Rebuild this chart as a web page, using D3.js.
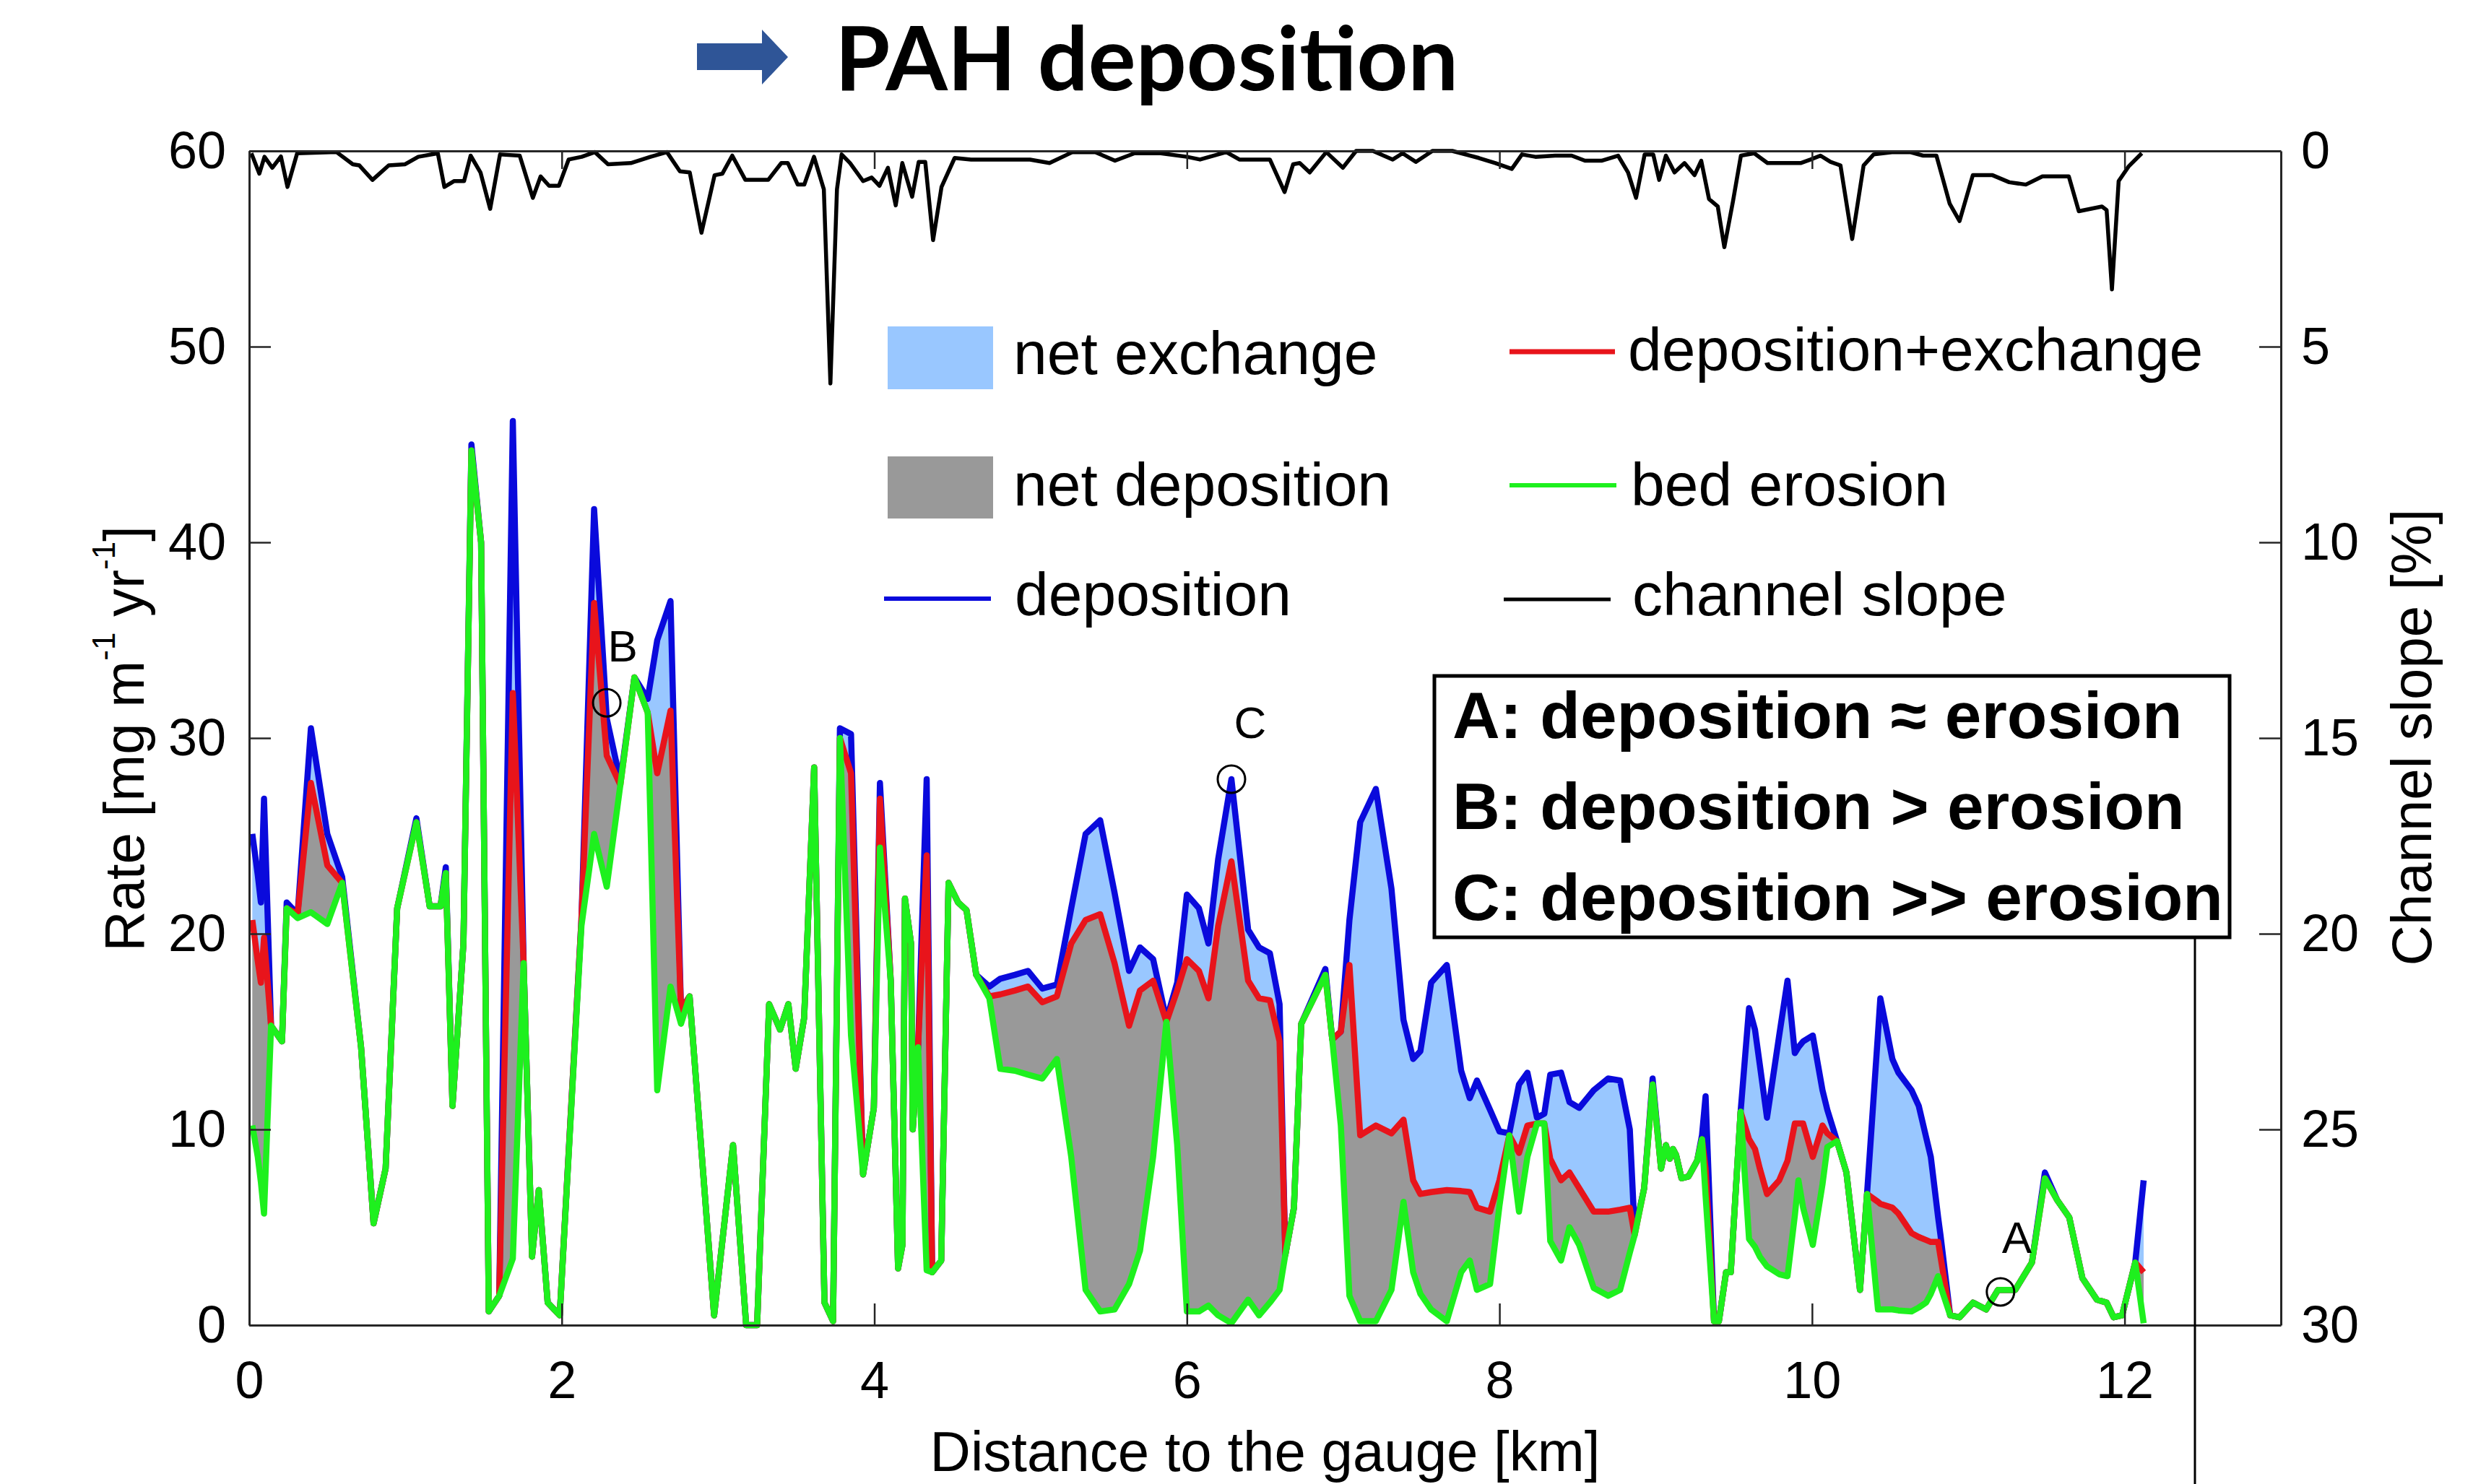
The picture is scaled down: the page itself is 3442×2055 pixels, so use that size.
<!DOCTYPE html>
<html><head><meta charset="utf-8">
<script src="https://cdn.jsdelivr.net/npm/d3@7"></script>
<style>body{margin:0;background:#fff}</style>
</head><body>
<svg id="chart" width="3442" height="2055"></svg>
<script>
// ---------------- data ----------------
const distanceKm = [0.02,0.055,0.075,0.095,0.14,0.21,0.24,0.31,0.395,0.50,0.595,0.716,0.796,0.873,0.947,1.07,1.155,1.224,1.258,1.301,1.371,1.422,1.484,1.533,1.60,1.687,1.756,1.81,1.853,1.91,1.987,2.126,2.207,2.288,2.375,2.465,2.55,2.611,2.696,2.763,2.818,2.975,3.096,3.18,3.25,3.327,3.397,3.45,3.497,3.551,3.615,3.681,3.736,3.78,3.851,3.928,3.997,4.036,4.105,4.152,4.18,4.196,4.235,4.246,4.28,4.335,4.37,4.428,4.475,4.536,4.59,4.652,4.736,4.806,4.90,4.983,5.075,5.168,5.26,5.352,5.445,5.537,5.63,5.70,5.784,5.869,5.938,6.0,6.077,6.138,6.2,6.285,6.392,6.462,6.531,6.593,6.63,6.685,6.732,6.886,6.93,6.985,7.04,7.109,7.209,7.309,7.386,7.448,7.494,7.563,7.663,7.755,7.81,7.856,7.94,8.0,8.063,8.125,8.179,8.24,8.287,8.325,8.394,8.448,8.51,8.603,8.695,8.772,8.834,8.865,8.926,8.98,9.034,9.065,9.09,9.11,9.13,9.165,9.21,9.265,9.296,9.319,9.373,9.404,9.45,9.48,9.543,9.597,9.635,9.666,9.712,9.79,9.843,9.89,9.913,9.943,10.005,10.067,10.098,10.16,10.22,10.307,10.352,10.422,10.437,10.514,10.553,10.637,10.683,10.73,10.76,10.807,10.822,10.884,10.944,11.03,11.114,11.19,11.3,11.407,11.49,11.568,11.646,11.73,11.823,11.885,11.93,11.984,12.068,12.122];
const bedErosion = [10.2,8.6,7.3,5.7,15.3,14.5,21.3,20.8,21.1,20.5,22.6,14.2,5.2,8.0,21.3,25.7,21.4,21.4,23.1,11.2,19.5,44.7,40.0,0.7,1.5,3.4,18.5,3.5,6.9,1.15,0.5,20.4,25.1,22.4,27.6,33.1,31.3,12.0,17.3,15.4,16.8,0.5,9.2,0.0,0.0,16.4,15.1,16.4,13.1,15.7,28.5,1.15,0.2,30.0,14.8,7.7,11.1,24.4,17.6,2.9,4.1,21.8,19.5,10.0,14.2,2.8,2.7,3.3,22.6,21.6,21.2,17.9,16.7,13.1,13.0,12.8,12.6,13.6,8.6,1.8,0.7,0.8,2.1,3.8,8.6,15.5,9.2,0.7,0.7,1.0,0.5,0.1,1.3,0.5,1.15,1.8,3.6,6.0,15.4,17.9,14.6,10.2,1.5,0.2,0.2,1.8,6.3,2.7,1.6,0.8,0.2,2.7,3.3,1.8,2.1,6.1,9.7,5.8,8.6,10.3,10.3,4.3,3.3,5.0,4.1,1.9,1.5,1.8,3.7,4.6,7.0,12.3,8.0,9.2,8.5,9.0,8.7,7.5,7.6,8.4,9.5,6.6,0.2,0.2,2.7,2.7,10.9,4.4,4.0,3.5,3.0,2.6,2.5,5.6,7.4,6.0,4.1,7.2,9.1,9.4,7.8,1.8,6.7,0.8,0.8,0.8,0.75,0.7,0.9,1.15,1.6,2.5,2.0,0.5,0.4,1.15,0.8,1.8,1.8,3.2,7.5,6.4,5.5,2.4,1.3,1.15,0.4,0.5,3.2,0.1];
const depositionExchange = [20.7,18.6,17.5,19.8,15.3,14.5,21.3,21.0,27.7,23.5,22.6,14.2,5.2,8.0,21.3,25.7,21.4,21.4,23.1,11.2,19.5,44.7,40.0,0.7,1.5,32.3,18.5,3.5,6.9,1.15,0.5,20.7,36.9,29.1,27.6,33.1,31.3,28.2,31.4,16.1,16.8,0.5,9.2,0.0,0.0,16.4,15.1,16.4,13.1,15.7,28.5,1.15,0.2,30.0,28.2,7.7,11.1,26.9,17.6,2.9,4.1,21.8,19.5,10.0,14.2,24.0,2.7,3.3,22.6,21.6,21.2,17.9,16.8,16.9,17.1,17.3,16.5,16.8,19.5,20.7,21.0,18.5,15.3,17.1,17.6,15.5,17.1,18.7,18.1,16.7,20.4,23.7,17.6,16.7,16.6,14.5,3.6,6.0,15.4,17.9,14.6,15.0,18.4,9.7,10.2,9.8,10.5,7.4,6.7,6.8,6.9,6.85,6.8,6.0,5.8,7.4,9.7,8.8,10.2,10.3,10.3,8.5,7.4,7.8,7.0,5.8,5.8,5.9,6.0,4.6,7.0,12.3,8.0,9.2,8.5,9.0,8.7,7.5,7.6,8.4,9.5,8.0,0.2,0.2,2.7,2.7,10.9,9.5,9.0,8.0,6.7,7.4,8.4,10.3,10.3,10.3,8.6,10.2,9.8,9.4,7.8,1.8,6.7,6.3,6.2,6.0,5.7,4.7,4.5,4.35,4.25,4.25,3.5,0.5,0.4,1.15,0.8,1.8,1.8,3.2,7.5,6.4,5.5,2.4,1.3,1.15,0.4,0.5,3.2,2.7];
const deposition = [25.1,23.0,21.6,26.9,15.3,14.5,21.6,21.0,30.5,25.1,22.9,14.2,5.2,8.0,21.3,25.9,21.4,21.4,23.4,11.2,19.5,45.0,40.0,0.7,1.5,46.2,18.5,3.5,6.9,1.15,0.5,20.7,41.7,31.0,27.8,33.1,32.0,35.0,37.0,16.1,16.8,0.5,9.2,0.0,0.0,16.4,15.1,16.4,13.1,15.7,28.5,1.15,0.2,30.5,30.2,7.7,11.1,27.7,17.6,2.9,4.1,21.8,19.5,10.0,14.2,27.9,2.7,3.3,22.6,21.6,21.2,17.9,17.3,17.7,17.9,18.1,17.2,17.4,21.3,25.1,25.8,22.1,18.1,19.3,18.7,15.6,17.5,22.0,21.3,19.5,23.8,27.9,20.2,19.3,19.0,16.4,3.6,6.0,15.4,18.2,14.6,15.0,20.7,25.7,27.4,22.3,15.6,13.6,14.0,17.5,18.4,13.0,11.6,12.5,11.0,9.9,9.8,12.3,12.9,10.6,10.8,12.8,12.9,11.4,11.1,12.0,12.6,12.5,10.0,4.8,7.0,12.6,8.0,9.2,8.5,9.0,8.7,7.5,7.6,8.4,9.7,11.7,0.2,0.2,2.7,2.7,10.9,16.2,15.1,13.3,10.6,14.8,17.6,13.9,14.2,14.5,14.8,12.0,11.0,9.4,7.8,1.8,6.7,14.9,16.7,13.6,12.9,12.0,11.2,9.6,8.6,5.5,4.6,0.5,0.4,1.15,0.8,1.8,1.8,3.2,7.8,6.4,5.5,2.4,1.3,1.15,0.4,0.5,3.2,7.4];

const slopeKm = [0.014,0.065,0.098,0.148,0.203,0.245,0.307,0.559,0.663,0.705,0.789,0.893,0.998,1.082,1.207,1.249,1.312,1.375,1.417,1.48,1.542,1.605,1.731,1.815,1.865,1.919,1.982,2.044,2.128,2.212,2.296,2.442,2.568,2.673,2.756,2.819,2.894,2.978,3.028,3.091,3.175,3.321,3.405,3.447,3.51,3.552,3.614,3.677,3.719,3.761,3.791,3.845,3.928,3.983,4.033,4.087,4.137,4.179,4.242,4.284,4.326,4.376,4.43,4.514,4.619,4.996,5.121,5.268,5.414,5.54,5.665,5.833,6.0,6.084,6.252,6.336,6.446,6.531,6.625,6.68,6.722,6.786,6.892,6.998,7.083,7.19,7.317,7.38,7.465,7.571,7.698,7.868,7.974,8.079,8.144,8.23,8.356,8.462,8.547,8.653,8.759,8.823,8.874,8.929,8.984,9.022,9.065,9.12,9.184,9.248,9.291,9.341,9.397,9.439,9.494,9.545,9.63,9.715,9.927,9.991,10.054,10.118,10.182,10.257,10.33,10.394,10.521,10.627,10.711,10.796,10.881,10.944,11.029,11.155,11.262,11.368,11.474,11.643,11.707,11.855,11.885,11.919,11.962,12.025,12.11];
const channelSlope = [0.06,0.58,0.15,0.43,0.14,0.92,0.06,0.03,0.34,0.37,0.74,0.37,0.34,0.15,0.06,0.92,0.77,0.77,0.12,0.55,1.48,0.09,0.12,1.2,0.65,0.89,0.89,0.22,0.15,0.03,0.34,0.31,0.15,0.03,0.52,0.55,2.09,0.62,0.58,0.12,0.74,0.74,0.31,0.31,0.86,0.86,0.15,0.98,5.94,0.98,0.09,0.31,0.77,0.68,0.89,0.43,1.39,0.31,1.17,0.28,0.28,2.28,0.92,0.18,0.22,0.22,0.31,0.03,0.03,0.25,0.06,0.06,0.15,0.22,0.03,0.22,0.22,0.22,1.05,0.34,0.31,0.55,0.03,0.43,0,0,0.22,0.06,0.28,0,0,0.18,0.31,0.46,0.09,0.15,0.12,0.12,0.25,0.25,0.12,0.55,1.2,0.09,0.09,0.74,0.12,0.55,0.31,0.62,0.25,1.23,1.42,2.46,1.29,0.12,0.06,0.31,0.31,0.22,0.12,0.28,0.37,2.25,0.37,0.09,0.03,0.03,0.12,0.12,1.35,1.79,0.62,0.62,0.8,0.86,0.65,0.65,1.54,1.42,1.51,3.54,0.77,0.4,0.06];

const rateTicks = [0,10,20,30,40,50,60];
const slopeTicks = [0,5,10,15,20,25,30];
const distanceTicks = [0,2,4,6,8,10,12];

const markLabels = ["A","B","C"];
const markKm = [11.206,2.288,6.285];
const markRate = [1.7,31.8,27.9];
const markLabelKm = [11.31,2.39,6.405];
const markLabelRate = [3.7,33.9,30.0];

const boxLines = ["A: deposition \u2248 erosion","B: deposition > erosion","C: deposition >> erosion"];
const titleText = "PAH deposition";

// ---------------- drawing ----------------
const svg = d3.select("#chart");
const FONT = "'Liberation Sans', Arial, sans-serif";
const M = {left:345, right:3158, top:209, bottom:1835};
const C = {blue:"#0a0adc", red:"#e8141b", green:"#1ef01e", fillEx:"#99c7ff", fillDep:"#999999", axis:"#262626"};

const x = d3.scaleLinear().domain([0,13]).range([M.left, M.right]);
const yL = d3.scaleLinear().domain([0,60]).range([M.bottom, M.top]);
const yR = d3.scaleLinear().domain([0,30]).range([M.top, M.bottom]);

svg.append("rect").attr("width",3442).attr("height",2055).attr("fill","#fff");

// title
svg.append("polygon")
  .attr("points","965,60 1055,60 1055,41 1091,79 1055,117 1055,97 965,97")
  .attr("fill","#2f5597");
svg.append("text").attr("x",1156).attr("y",125)
  .attr("font-family","Lato, 'Open Sans', sans-serif").attr("font-weight",700)
  .attr("font-size",123).attr("textLength",863).attr("lengthAdjust","spacingAndGlyphs")
  .text(titleText);

const rows = distanceKm.map((d,i)=>({km:d, g:bedErosion[i], r:depositionExchange[i], b:deposition[i]}));

const plot = svg.append("g");
plot.append("path").datum(rows).attr("fill",C.fillEx)
  .attr("d", d3.area().x(d=>x(d.km)).y0(d=>yL(d.r)).y1(d=>yL(d.b)));
plot.append("path").datum(rows).attr("fill",C.fillDep)
  .attr("d", d3.area().x(d=>x(d.km)).y0(d=>yL(d.g)).y1(d=>yL(d.r)));

const lineOf = key => d3.line().x(d=>x(d.km)).y(d=>yL(d[key]));
[["b",C.blue],["r",C.red],["g",C.green]].forEach(([k,col])=>{
  plot.append("path").datum(rows).attr("fill","none").attr("stroke",col)
    .attr("stroke-width",8.5).attr("stroke-linejoin","round").attr("d",lineOf(k));
});

// channel slope
const slopeRows = slopeKm.map((d,i)=>({km:d, s:channelSlope[i]}));
plot.append("path").datum(slopeRows).attr("fill","none").attr("stroke","#000")
  .attr("stroke-width",5.5).attr("stroke-linejoin","round")
  .attr("d", d3.line().x(d=>x(d.km)).y(d=>yR(d.s)));

// annotation markers
markLabels.forEach((lab,i)=>{
  plot.append("circle").attr("cx",x(markKm[i])).attr("cy",yL(markRate[i])).attr("r",19)
    .attr("fill","none").attr("stroke","#000").attr("stroke-width",3);
  plot.append("text").attr("x",x(markLabelKm[i])).attr("y",yL(markLabelRate[i]))
    .attr("text-anchor","middle").attr("font-family",FONT).attr("font-size",62).text(lab);
});

// axes
function styleAxis(g){
  g.selectAll(".domain").attr("stroke",C.axis).attr("stroke-width",3);
  g.selectAll(".tick line").attr("stroke",C.axis).attr("stroke-width",2.5);
  g.selectAll(".tick text").attr("font-family",FONT).attr("font-size",72).attr("fill","#000");
}
svg.append("g").attr("transform",`translate(${M.left},0)`)
  .call(d3.axisLeft(yL).tickValues(rateTicks).tickSize(-30).tickSizeOuter(0).tickPadding(32))
  .call(styleAxis);
svg.append("g").attr("transform",`translate(${M.right},0)`)
  .call(d3.axisRight(yR).tickValues(slopeTicks).tickSize(-30).tickSizeOuter(0).tickPadding(28))
  .call(styleAxis);
svg.append("g").attr("transform",`translate(0,${M.bottom})`)
  .call(d3.axisBottom(x).tickValues(distanceTicks).tickSize(-30).tickSizeOuter(0).tickPadding(50))
  .call(styleAxis);
svg.append("g").attr("transform",`translate(0,${M.top})`)
  .call(d3.axisTop(x).tickValues(distanceTicks).tickSize(-25).tickSizeOuter(0).tickFormat(""))
  .call(styleAxis);

// axis titles
const yl = svg.append("text").attr("transform","translate(199,1023) rotate(-90)")
  .attr("text-anchor","middle").attr("font-family",FONT).attr("font-size",78);
yl.append("tspan").text("Rate [mg m");
yl.append("tspan").attr("font-size",44).attr("dy",-40).text("-1");
yl.append("tspan").attr("dy",40).text(" yr");
yl.append("tspan").attr("font-size",44).attr("dy",-40).text("-1");
yl.append("tspan").attr("dy",40).text("]");

svg.append("text").attr("transform","translate(3366,1021) rotate(-90)")
  .attr("text-anchor","middle").attr("font-family",FONT).attr("font-size",78)
  .text("Channel slope [%]");
svg.append("text").attr("x",(M.left+M.right)/2).attr("y",2037)
  .attr("text-anchor","middle").attr("font-family",FONT).attr("font-size",78)
  .text("Distance to the gauge [km]");

// legend
const lg = svg.append("g").attr("font-family",FONT).attr("font-size",84);
lg.append("rect").attr("x",1229).attr("y",452).attr("width",146).attr("height",87).attr("fill",C.fillEx);
lg.append("rect").attr("x",1229).attr("y",632).attr("width",146).attr("height",86).attr("fill",C.fillDep);
lg.append("line").attr("x1",1224).attr("x2",1372).attr("y1",829).attr("y2",829).attr("stroke",C.blue).attr("stroke-width",6);
lg.append("line").attr("x1",2090).attr("x2",2236).attr("y1",487).attr("y2",487).attr("stroke",C.red).attr("stroke-width",7);
lg.append("line").attr("x1",2090).attr("x2",2238).attr("y1",672).attr("y2",672).attr("stroke",C.green).attr("stroke-width",6);
lg.append("line").attr("x1",2082).attr("x2",2230).attr("y1",830).attr("y2",830).attr("stroke","#000").attr("stroke-width",5);
lg.append("text").attr("x",1403).attr("y",518).text("net exchange");
lg.append("text").attr("x",1403).attr("y",700).text("net deposition");
lg.append("text").attr("x",1405).attr("y",852).text("deposition");
lg.append("text").attr("x",2254).attr("y",513).text("deposition+exchange");
lg.append("text").attr("x",2258).attr("y",700).text("bed erosion");
lg.append("text").attr("x",2260).attr("y",852).text("channel slope");

// annotation box
svg.append("line").attr("x1",3039).attr("x2",3039).attr("y1",1298).attr("y2",2055)
  .attr("stroke","#000").attr("stroke-width",3);
svg.append("rect").attr("x",1986).attr("y",936).attr("width",1101).attr("height",362)
  .attr("fill","#fff").attr("stroke","#000").attr("stroke-width",5);
const boxBase = [1022,1148,1274];
boxLines.forEach((t,i)=>{
  svg.append("text").attr("x",2011).attr("y",boxBase[i]).attr("font-family",FONT)
    .attr("font-weight",700).attr("font-size",91).text(t);
});
</script>
</body></html>
